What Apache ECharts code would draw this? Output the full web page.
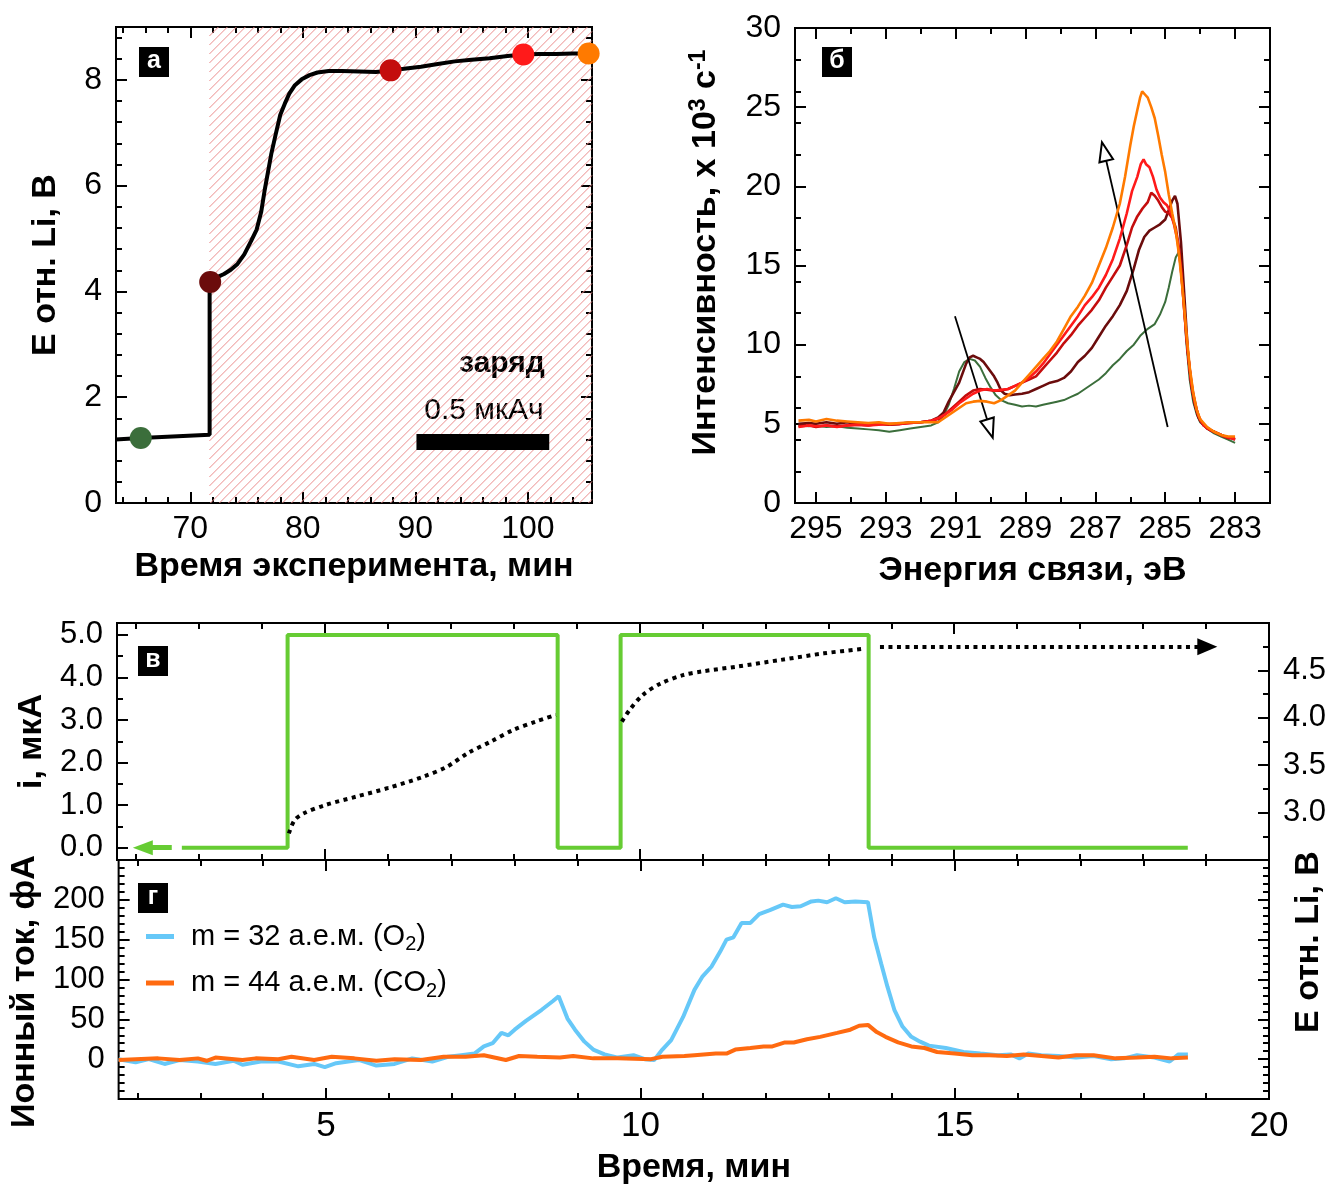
<!DOCTYPE html>
<html>
<head>
<meta charset="utf-8">
<script src="https://cdn.jsdelivr.net/npm/echarts@6/dist/echarts.min.js"></script>
<style>
  html, body { margin: 0; padding: 0; background: #fff; }
  #chart { width: 1332px; height: 1189px; }
</style>
</head>
<body>
<div id="chart"></div>
<script>
// ---------- panel а: electrode potential vs. experiment time ----------
const timeA = [63.35, 65.6, 71.72, 71.72, 72.4, 73.0, 73.6, 74.2, 74.8, 75.4, 75.9, 76.3, 76.6, 76.9,
  77.2, 77.6, 78.0, 78.4, 78.8, 79.3, 79.9, 80.6, 81.3, 82.3, 83.5, 85.0, 86.5, 87.8, 89.0, 90.5,
  92.0, 93.5, 95.0, 96.6, 98.2, 99.6, 101.0, 102.5, 104.0, 105.4];
const potentialA = [1.20, 1.23, 1.29, 4.18, 4.27, 4.33, 4.41, 4.52, 4.70, 4.95, 5.17, 5.50, 5.90, 6.25,
  6.60, 6.98, 7.34, 7.55, 7.74, 7.90, 8.01, 8.09, 8.14, 8.17, 8.17, 8.16, 8.15, 8.18, 8.21, 8.25,
  8.30, 8.35, 8.38, 8.41, 8.45, 8.48, 8.49, 8.49, 8.50, 8.50];
// moments at which the XPS spectra of panel б were taken
const spectrumTimes = [65.6, 71.77, 87.8, 99.6, 105.4];
const spectrumPotentials = [1.23, 4.18, 8.18, 8.48, 8.50];
const chargeStart = 71.7;                 // beginning of the charging period
const chargeBar = [90.1, 101.9, 1.15];    // 0.5 мкАч bar: from, to, level
const ticksAx = [70, 80, 90, 100];
const ticksAy = [0, 2, 4, 6, 8];

// ---------- panel б: C 1s spectra ----------
const beGreen = [295.5, 295.2, 295.0, 294.7, 294.4, 294.1, 293.8, 293.5, 293.2, 292.9, 292.6, 292.3, 292.0, 291.7, 291.5, 291.35, 291.2, 291.05, 290.9, 290.75, 290.6, 290.45, 290.3, 290.15, 290.0, 289.85, 289.7, 289.5, 289.3, 289.1, 288.9, 288.7, 288.5, 288.3, 288.1, 287.9, 287.7, 287.5, 287.3, 287.1, 286.9, 286.7, 286.5, 286.3, 286.1, 285.9, 285.7, 285.5, 285.3, 285.15, 285.0, 284.9, 284.8, 284.7, 284.6, 284.5, 284.4, 284.3, 284.2, 284.1, 284.0, 283.8, 283.6, 283.4, 283.2, 283.0];
const intGreen = [4.9, 4.85, 4.9, 4.8, 4.85, 4.75, 4.7, 4.65, 4.6, 4.5, 4.6, 4.7, 4.8, 4.9, 5.1, 5.5, 6.2, 7.2, 8.3, 8.9, 9.1, 9.0, 8.6, 7.9, 7.3, 6.8, 6.5, 6.3, 6.2, 6.1, 6.15, 6.1, 6.2, 6.3, 6.4, 6.5, 6.7, 6.9, 7.2, 7.5, 7.8, 8.2, 8.7, 9.1, 9.6, 10.0, 10.6, 11.0, 11.3, 11.9, 12.7, 13.6, 14.6, 15.5, 15.9, 13.8, 10.2, 7.8, 6.4, 5.6, 5.1, 4.7, 4.4, 4.2, 4.0, 3.8];

const beMaroon = [295.5, 295.2, 295.0, 294.7, 294.4, 294.1, 293.8, 293.5, 293.2, 292.9, 292.6, 292.3, 292.0, 291.7, 291.5, 291.35, 291.2, 291.05, 290.9, 290.8, 290.7, 290.6, 290.5, 290.4, 290.3, 290.2, 290.1, 290.0, 289.9, 289.8, 289.7, 289.6, 289.45, 289.3, 289.1, 288.9, 288.7, 288.5, 288.3, 288.1, 287.9, 287.7, 287.5, 287.3, 287.1, 286.9, 286.7, 286.5, 286.3, 286.1, 285.9, 285.75, 285.6, 285.45, 285.3, 285.15, 285.0, 284.9, 284.8, 284.72, 284.65, 284.55, 284.45, 284.35, 284.25, 284.15, 284.05, 283.9, 283.7, 283.5, 283.3, 283.1, 283.0];
const intMaroon = [5.0, 5.05, 5.0, 5.1, 5.0, 5.1, 4.95, 5.0, 5.05, 4.95, 5.0, 5.1, 5.1, 5.2, 5.4, 5.7, 6.4, 7.0, 7.6, 8.2, 8.8, 9.2, 9.3, 9.2, 9.1, 8.9, 8.6, 8.3, 8.0, 7.6, 7.1, 6.9, 6.8, 6.85, 6.9, 7.0, 7.2, 7.4, 7.6, 7.7, 7.9, 8.3, 8.9, 9.3, 9.8, 10.5, 11.2, 11.8, 12.5, 13.4, 14.8, 16.0, 16.8, 17.2, 17.4, 17.6, 17.9, 18.5, 19.1, 19.4, 18.9, 16.5, 13.0, 9.5, 7.4, 6.2, 5.4, 4.9, 4.6, 4.4, 4.2, 4.1, 4.0];

const beDarkRed = [295.5, 295.2, 295.0, 294.7, 294.4, 294.1, 293.8, 293.5, 293.2, 292.9, 292.6, 292.3, 292.0, 291.7, 291.5, 291.3, 291.1, 290.9, 290.7, 290.5, 290.3, 290.1, 289.9, 289.7, 289.5, 289.3, 289.1, 288.9, 288.7, 288.5, 288.3, 288.1, 287.9, 287.7, 287.5, 287.3, 287.1, 286.9, 286.7, 286.5, 286.3, 286.1, 285.95, 285.8, 285.65, 285.5, 285.4, 285.3, 285.2, 285.1, 285.0, 284.9, 284.8, 284.7, 284.6, 284.5, 284.4, 284.3, 284.2, 284.1, 284.0, 283.8, 283.6, 283.4, 283.2, 283.0];
const intDarkRed = [4.85, 4.9, 4.8, 4.9, 4.85, 4.9, 4.95, 4.9, 5.0, 4.95, 5.0, 5.05, 5.1, 5.2, 5.3, 5.6, 6.0, 6.4, 6.8, 7.1, 7.2, 7.15, 7.1, 7.1, 7.2, 7.4, 7.6, 7.8, 8.0, 8.5, 9.0, 9.5, 10.1, 10.6, 11.2, 11.7, 12.2, 12.8, 13.6, 14.3, 15.0, 16.3, 17.4, 18.1, 18.6, 19.0, 19.6, 19.4, 19.1, 18.7, 18.4, 18.3, 18.0, 17.4, 16.0, 13.5, 10.6, 8.4, 6.9, 5.9, 5.2, 4.7, 4.5, 4.3, 4.1, 4.1];

const beRed = [295.5, 295.2, 295.0, 294.7, 294.4, 294.1, 293.8, 293.5, 293.2, 292.9, 292.6, 292.3, 292.0, 291.7, 291.5, 291.3, 291.1, 290.9, 290.7, 290.5, 290.3, 290.1, 289.9, 289.7, 289.5, 289.3, 289.1, 288.9, 288.7, 288.5, 288.3, 288.1, 287.9, 287.7, 287.5, 287.3, 287.1, 286.9, 286.7, 286.5, 286.3, 286.1, 285.95, 285.8, 285.7, 285.62, 285.55, 285.45, 285.35, 285.25, 285.15, 285.05, 284.95, 284.85, 284.75, 284.65, 284.55, 284.45, 284.35, 284.25, 284.15, 284.05, 283.9, 283.7, 283.5, 283.3, 283.1, 283.0];
const intRed = [4.8, 4.9, 4.85, 4.9, 4.8, 4.9, 4.95, 4.9, 4.95, 5.0, 5.0, 5.05, 5.1, 5.2, 5.35, 5.6, 5.9, 6.3, 6.6, 6.9, 7.1, 7.2, 7.1, 7.15, 7.2, 7.4, 7.6, 7.9, 8.3, 8.8, 9.4, 10.0, 10.6, 11.2, 11.8, 12.5, 13.0, 13.6, 14.4, 15.4, 16.7, 18.3, 19.7, 20.6, 21.4, 21.7, 21.4, 21.2, 20.6, 19.8, 19.3, 19.0, 18.8, 18.4, 17.6, 16.6, 14.8, 12.0, 9.5, 7.5, 6.3, 5.5, 4.9, 4.6, 4.4, 4.2, 4.1, 4.0];

const beOrange = [295.5, 295.2, 295.0, 294.7, 294.4, 294.1, 293.8, 293.5, 293.2, 292.9, 292.6, 292.3, 292.0, 291.7, 291.5, 291.3, 291.1, 290.9, 290.7, 290.5, 290.3, 290.1, 289.9, 289.7, 289.5, 289.3, 289.1, 288.9, 288.7, 288.5, 288.3, 288.1, 287.9, 287.7, 287.5, 287.3, 287.1, 286.9, 286.7, 286.5, 286.3, 286.15, 286.0, 285.9, 285.8, 285.72, 285.66, 285.58, 285.5, 285.4, 285.3, 285.2, 285.1, 285.0, 284.9, 284.8, 284.7, 284.6, 284.5, 284.4, 284.3, 284.2, 284.1, 284.0, 283.8, 283.6, 283.4, 283.2, 283.0];
const intOrange = [5.2, 5.25, 5.15, 5.3, 5.2, 5.15, 5.1, 5.05, 5.1, 5.0, 5.05, 5.1, 5.1, 5.1, 5.1, 5.4, 5.7, 6.0, 6.3, 6.4, 6.45, 6.4, 6.3, 6.5, 6.8, 7.1, 7.6, 8.1, 8.6, 9.1, 9.6, 10.2, 11.0, 11.8, 12.4, 13.1, 13.9, 15.0, 16.1, 17.4, 18.9, 20.6, 22.6, 23.8, 24.8, 25.6, 26.0, 25.8, 25.6, 25.0, 24.3, 23.2, 22.0, 20.9, 19.5, 18.3, 17.2, 15.6, 13.4, 10.9, 8.6, 7.0, 5.9, 5.3, 4.8, 4.5, 4.3, 4.2, 4.2];

// trend arrows: [start energy, start intensity, head energy, head intensity]
const trendDown = [291.02, 11.8, 290.02, 4.7];
const trendUp = [284.93, 4.8, 286.75, 22.2];
const ticksBx = [295, 293, 291, 289, 287, 285, 283];
const ticksBy = [0, 5, 10, 15, 20, 25, 30];

// ---------- panel в: applied current and potential ----------
const stepTime = [2.73, 4.41, 8.70, 9.70, 13.64, 18.71];
const stepCurrent = [0, 5, 0, 5, 0, 0];
const potTime1 = [4.43, 4.52, 4.66, 5.01, 5.51, 6.01, 6.57, 6.93, 7.28, 7.64, 7.99, 8.35, 8.67];
const potValue1 = [2.78, 2.92, 2.99, 3.08, 3.17, 3.26, 3.38, 3.48, 3.63, 3.75, 3.87, 3.96, 4.03];
const potTime2 = [9.72, 9.84, 10.05, 10.33, 10.69, 11.0, 11.55, 12.24, 12.93, 13.58];
const potValue2 = [3.96, 4.08, 4.24, 4.36, 4.45, 4.49, 4.54, 4.61, 4.68, 4.73];
const currentArrow = [2.57, 2.11, 0];        // shaft start, head, level (left axis)
const potentialArrow = [13.82, 19.02, 4.75]; // shaft start, head, level (right axis)
const ticksCy = [0, 1, 2, 3, 4, 5];
const ticksCy2 = [3.0, 3.5, 4.0, 4.5];

// ---------- panel г: mass-spectrometry ion currents ----------
const o2Time = [1.70, 1.97, 2.18, 2.43, 2.67, 2.96, 3.24, 3.53, 3.67, 3.96, 4.24, 4.56, 4.81, 4.98, 5.16, 5.52, 5.80, 6.09, 6.37, 6.69, 6.94, 7.15, 7.36, 7.51, 7.65, 7.79, 7.90, 8.00, 8.18, 8.43, 8.61, 8.70, 8.84, 8.96, 9.11, 9.25, 9.43, 9.64, 9.89, 10.07, 10.22, 10.35, 10.49, 10.68, 10.86, 10.99, 11.13, 11.27, 11.37, 11.48, 11.61, 11.75, 11.89, 12.06, 12.27, 12.41, 12.55, 12.72, 12.83, 12.97, 13.11, 13.25, 13.42, 13.62, 13.72, 13.83, 13.93, 14.04, 14.17, 14.31, 14.45, 14.59, 14.86, 15.14, 15.41, 15.69, 15.89, 16.03, 16.17, 16.38, 16.65, 16.93, 17.21, 17.49, 17.70, 17.90, 18.18, 18.42, 18.56, 18.71];
const o2Current = [0, -4, 0, -6, -1, -3, -6, -2, -7, -3, -3, -9, -6, -10, -5, -1, -8, -6, 1, -3, 3, 5, 7, 16, 20, 33, 30, 37, 48, 62, 73, 79, 51, 37, 22, 12, 6, 2, 5, 0, -1, 12, 24, 53, 87, 104, 116, 135, 150, 153, 171, 171, 182, 187, 194, 191, 192, 198, 199, 197, 202, 197, 198, 197, 153, 120, 91, 62, 41, 28, 22, 17, 14, 9, 7, 5, 6, 1, 7, 5, 4, 2, 4, 0, 1, 5, 2, -3, 6, 6];
const co2Time = [1.70, 1.97, 2.33, 2.67, 2.96, 3.10, 3.24, 3.67, 3.88, 4.24, 4.45, 4.81, 5.09, 5.45, 5.80, 6.09, 6.51, 6.87, 7.22, 7.51, 7.86, 8.07, 8.36, 8.72, 8.93, 9.25, 9.64, 10.17, 10.35, 10.70, 10.86, 11.20, 11.37, 11.51, 11.75, 11.96, 12.10, 12.30, 12.44, 12.65, 12.86, 13.13, 13.34, 13.48, 13.62, 13.76, 13.90, 14.10, 14.31, 14.52, 14.72, 15.00, 15.28, 15.55, 15.83, 16.10, 16.38, 16.65, 16.93, 17.21, 17.56, 17.90, 18.18, 18.45, 18.71];
const co2Current = [-1, 0, 1, -1, 1, -2, 2, -1, 1, 0, 3, -1, 3, 1, -2, 0, -1, 3, 3, 5, -1, 4, 3, 2, 4, 1, 1, 0, 3, 4, 5, 7, 7, 12, 14, 16, 16, 21, 21, 25, 28, 33, 37, 42, 43, 34, 28, 21, 16, 14, 9, 7, 5, 5, 4, 6, 4, 2, 5, 5, 1, 2, 3, 1, 2];
const ticksDx = [5, 10, 15, 20];
const ticksDy = [0, 50, 100, 150, 200];
const nameO2 = 'm = 32 а.е.м. (O2)';
const nameCO2 = 'm = 44 а.е.м. (CO2)';

// ---------- styling ----------
const FONT = '"Liberation Sans", Arial, Helvetica, sans-serif';
const INK = '#000';
const spectrumColors = ['#3b6e3b', '#6b0c0c', '#c40d0d', '#ff1a1a', '#ff7a00'];
const titleStyle = { fontFamily: FONT, fontWeight: 'bold', fontSize: 34, color: INK };

const zip = (a, b) => a.map((v, i) => [v, b[i]]);
function steps(from, to, step, skip) {
  const out = [];
  for (let v = from; v <= to + 1e-9; v += step) {
    const r = Math.round(v * 1000) / 1000;
    if (!skip.some(s => Math.abs(s - r) < 1e-6)) out.push(r);
  }
  return out;
}

const grids = [
  { left: 116, top: 27, width: 476, height: 476 },   // а
  { left: 795, top: 28, width: 475, height: 475 },   // б
  { left: 117, top: 623, width: 1152, height: 237 }, // в
  { left: 117, top: 860, width: 1152, height: 239 }  // г
].map(g => Object.assign({ show: true, borderColor: INK, borderWidth: 2, backgroundColor: 'transparent' }, g));

const xAxes = [], yAxes = [];
function addAxis(list, o) {
  list.push({
    type: 'value', gridIndex: o.grid, position: o.pos, min: o.min, max: o.max, inverse: !!o.inverse,
    axisLine: { show: false, onZero: false },
    splitLine: { show: false },
    axisTick: { show: true, inside: true, length: o.len, customValues: o.ticks, lineStyle: { color: INK, width: 2 } },
    axisLabel: o.labels ? {
      show: true, customValues: o.labels, formatter: o.fmt || (v => String(v)), margin: o.margin,
      color: INK, fontFamily: o.font || FONT, fontSize: o.size || 32
    } : { show: false },
    name: o.name || '', nameLocation: 'middle', nameGap: o.nameGap || 0, nameRotate: o.nameRotate,
    nameTextStyle: o.nameStyle || titleStyle,
    silent: true
  });
  return list.length - 1;
}
// a full set of inward ticks on one side (major + minor)
function side(list, grid, pos, range, major, minor, extra) {
  const main = addAxis(list, Object.assign({ grid, pos, min: range[0], max: range[1], ticks: major, len: 11 }, extra || {}));
  addAxis(list, { grid, pos, min: range[0], max: range[1], ticks: minor, len: 6, inverse: extra && extra.inverse });
  return main;
}

// panel а axes
const rangeAx = [63.4, 105.7], rangeAy = [0, 9];
const minorAx = steps(64, 104, 2, ticksAx), minorAy = steps(0.4, 8.8, 0.4, ticksAy);
const xA = side(xAxes, 0, 'bottom', rangeAx, ticksAx, minorAx, {
  labels: ticksAx, margin: 10, name: 'Время эксперимента, мин', nameGap: 47 });
side(xAxes, 0, 'top', rangeAx, ticksAx, minorAx);
const yA = side(yAxes, 0, 'left', rangeAy, ticksAy, minorAy, {
  labels: ticksAy, margin: 14, name: 'Е отн. Li, В', nameGap: 53, nameRotate: 90 });
side(yAxes, 0, 'right', rangeAy, ticksAy, minorAy);

// panel б axes
const rangeBx = [282.0, 295.6], rangeBy = [0, 30];
const minorBx = steps(284, 294, 2, []), minorBy = steps(2, 28, 2, ticksBy);
const xB = side(xAxes, 1, 'bottom', rangeBx, ticksBx, minorBx, {
  inverse: true, labels: ticksBx, margin: 10, name: 'Энергия связи, эВ', nameGap: 51 });
side(xAxes, 1, 'top', rangeBx, ticksBx, minorBx, { inverse: true });
const yB = side(yAxes, 1, 'left', rangeBy, ticksBy, minorBy, {
  labels: ticksBy, margin: 14, name: 'Интенсивность, x 10{sup|3} с{sup|-1}', nameGap: 70, nameRotate: 90,
  nameStyle: Object.assign({}, titleStyle, { lineHeight: 38, padding: [0, 0, 0, 26], rich: {
    sup: { fontFamily: FONT, fontWeight: 'bold', fontSize: 23, lineHeight: 22, verticalAlign: 'top', color: INK } } }) });
side(yAxes, 1, 'right', rangeBy, ticksBy, minorBy);

// panels в and г share the time axis
const rangeT = [1.7, 20];
const minorT = steps(2, 19, 1, ticksDx);
const xC = side(xAxes, 2, 'bottom', rangeT, ticksDx, minorT);
side(xAxes, 2, 'top', rangeT, ticksDx, minorT);
const rangeCy = [-0.29, 5.28], rangeCy2 = [2.5, 5.0];
const yC = side(yAxes, 2, 'left', rangeCy, ticksCy, steps(0.5, 4.5, 1, []), {
  labels: ticksCy, fmt: v => v.toFixed(1), margin: 14, size: 31, name: 'i, мкА', nameGap: 66, nameRotate: 90 });
const yC2 = side(yAxes, 2, 'right', rangeCy2, ticksCy2, [2.75, 3.25, 3.75, 4.25, 4.75], {
  labels: ticksCy2, fmt: v => v.toFixed(1), margin: 14, size: 31 });

const xD = side(xAxes, 3, 'bottom', rangeT, ticksDx, minorT, {
  labels: ticksDx, margin: 10, size: 35, name: 'Время, мин', nameGap: 52 });
side(xAxes, 3, 'top', rangeT, ticksDx, minorT);
const rangeDy = [-50, 250];
const minorDy = steps(-40, 240, 10, ticksDy);
const yD = side(yAxes, 3, 'left', rangeDy, ticksDy, minorDy, {
  labels: ticksDy, margin: 14, size: 31, name: 'Ионный ток, фА', nameGap: 60, nameRotate: 90,
  nameStyle: Object.assign({}, titleStyle, { padding: [0, 24, 0, 0] }) });
side(yAxes, 3, 'right', rangeDy, ticksDy, minorDy);

function arrowLine(from, to, style, head, headSize) {
  return {
    silent: true, symbol: ['none', head], symbolSize: headSize,
    label: { show: false }, emphasis: { disabled: true },
    lineStyle: style,
    data: [[{ coord: from }, { coord: to }]]
  };
}

const series = [];
// --- а ---
// hatching of the charging interval, drawn in pixel space from the axis coordinates
series.push({
  type: 'custom', xAxisIndex: xA, yAxisIndex: yA, silent: true, z: 1,
  data: [[chargeStart, rangeAx[1]]],
  renderItem: (params, api) => {
    const p0 = api.coord([api.value(0), rangeAy[1]]);
    const p1 = api.coord([api.value(1), rangeAy[0]]);
    const x0 = p0[0], y0 = p0[1], x1 = p1[0], y1 = p1[1];
    const children = [];
    for (let c = x0 + y0; c <= x1 + y1; c += 9) {
      const xa = Math.max(x0, c - y1), xb = Math.min(x1, c - y0);
      if (xb > xa) children.push({
        type: 'line', shape: { x1: xa, y1: c - xa, x2: xb, y2: c - xb },
        style: { stroke: '#ec8e8e', lineWidth: 1 }
      });
    }
    return { type: 'group', children };
  }
});
series.push({
  type: 'line', xAxisIndex: xA, yAxisIndex: yA, data: zip(timeA, potentialA),
  showSymbol: false, lineStyle: { color: INK, width: 4 }, z: 3,
  markLine: { silent: true, symbol: ['none', 'none'], label: { show: false }, emphasis: { disabled: true },
    lineStyle: { color: INK, width: 16, type: 'solid', cap: 'butt' },
    data: [[{ coord: [chargeBar[0], chargeBar[2]] }, { coord: [chargeBar[1], chargeBar[2]] }]] }
});
series.push({
  type: 'scatter', xAxisIndex: xA, yAxisIndex: yA, data: zip(spectrumTimes, spectrumPotentials),
  symbolSize: 22, z: 4, clip: false,
  itemStyle: { color: p => spectrumColors[p.dataIndex], opacity: 1 }
});
// --- б ---
const spectra = [[beGreen, intGreen], [beMaroon, intMaroon], [beDarkRed, intDarkRed], [beRed, intRed], [beOrange, intOrange]];
spectra.forEach((s, i) => series.push({
  type: 'line', xAxisIndex: xB, yAxisIndex: yB, data: zip(s[0], s[1]), showSymbol: false,
  lineStyle: { color: spectrumColors[i], width: i === 0 ? 2 : 2.6 }, z: 3 + i
}));
series.push({
  type: 'line', xAxisIndex: xB, yAxisIndex: yB, data: [], z: 10,
  markLine: {
    silent: true, symbol: ['none', 'emptyTriangle'], symbolSize: [14, 19],
    label: { show: false }, emphasis: { disabled: true },
    lineStyle: { color: INK, width: 1.8, type: 'solid' },
    data: [
      [{ coord: [trendDown[0], trendDown[1]] }, { coord: [trendDown[2], trendDown[3]] }],
      [{ coord: [trendUp[0], trendUp[1]] }, { coord: [trendUp[2], trendUp[3]] }]
    ]
  }
});
// --- в ---
series.push({
  type: 'line', xAxisIndex: xC, yAxisIndex: yC, data: zip(stepTime, stepCurrent), step: 'end',
  showSymbol: false, lineStyle: { color: '#66cc33', width: 4 }, z: 3,
  markLine: arrowLine([currentArrow[0], currentArrow[2]], [currentArrow[1], currentArrow[2]],
    { color: '#66cc33', width: 5, type: 'solid' }, 'triangle', [15, 20])
});
[[potTime1, potValue1], [potTime2, potValue2]].forEach(s => series.push({
  type: 'line', xAxisIndex: xC, yAxisIndex: yC2, data: zip(s[0], s[1]), smooth: 0.3,
  showSymbol: false, lineStyle: { color: INK, width: 4, type: [4, 4.5], cap: 'butt' }, z: 4
}));
series.push({
  type: 'line', xAxisIndex: xC, yAxisIndex: yC2, data: [], z: 4,
  markLine: arrowLine([potentialArrow[0], potentialArrow[2]], [potentialArrow[1], potentialArrow[2]],
    { color: INK, width: 4, type: [4, 4.5], cap: 'butt' }, 'triangle', [17, 20])
});
// --- г ---
series.push({
  name: nameO2, type: 'line', xAxisIndex: xD, yAxisIndex: yD, data: zip(o2Time, o2Current),
  showSymbol: false, lineStyle: { color: '#66c8f8', width: 4 }, itemStyle: { color: '#66c8f8' }, z: 3
});
series.push({
  name: nameCO2, type: 'line', xAxisIndex: xD, yAxisIndex: yD, data: zip(co2Time, co2Current),
  showSymbol: false, lineStyle: { color: '#ff6a10', width: 4 }, itemStyle: { color: '#ff6a10' }, z: 4
});

// rich formatting of the legend formulas (subscript 2)
function formula(name) {
  const m = name.match(/^(.*\()([A-Z]+)2(\))$/);
  return '{a|' + m[1] + m[2] + '}{s|2}{a|' + m[3] + '}';
}

function panelTag(x, y, letter) {
  return {
    type: 'group', left: x, top: y, silent: true, children: [
      { type: 'rect', shape: { x: 0, y: 0, width: 30, height: 30 }, style: { fill: INK } },
      { type: 'text', x: 15, y: 14, style: { text: letter, fill: '#fff', font: 'bold 25px ' + FONT, align: 'center', verticalAlign: 'middle' } }
    ]
  };
}

const chart = echarts.init(document.getElementById('chart'), null, { renderer: 'canvas' });
chart.setOption({
  animation: false,
  backgroundColor: '#fff',
  grid: grids,
  xAxis: xAxes,
  yAxis: yAxes,
  legend: {
    data: [nameO2, nameCO2], orient: 'vertical', left: 141, top: 917,
    icon: 'rect', itemWidth: 28, itemHeight: 5, itemGap: 14, selectedMode: false,
    formatter: formula,
    textStyle: { padding: [0, 0, 0, 12], rich: {
      a: { fontFamily: FONT, fontSize: 29, color: INK, lineHeight: 36 },
      s: { fontFamily: FONT, fontSize: 20, color: INK, lineHeight: 22, verticalAlign: 'bottom' }
    } }
  },
  graphic: [
    panelTag(139, 47, 'а'),
    panelTag(822, 47, 'б'),
    panelTag(138, 646, 'в'),
    panelTag(138, 883, 'г'),
    { type: 'text', x: 502, y: 364, silent: true,
      style: { text: 'заряд', font: 'bold 30px ' + FONT, fill: INK, align: 'center', verticalAlign: 'middle' } },
    { type: 'text', x: 484, y: 411, silent: true,
      style: { text: '0.5 мкАч', font: '30px ' + FONT, fill: INK, align: 'center', verticalAlign: 'middle' } },
    { type: 'text', x: 1309, y: 942, rotation: Math.PI / 2, silent: true,
      style: { text: 'Е отн. Li, В', font: 'bold 34px ' + FONT, fill: INK, align: 'center', verticalAlign: 'middle' } }
  ],
  series: series
});
</script>
</body>
</html>
